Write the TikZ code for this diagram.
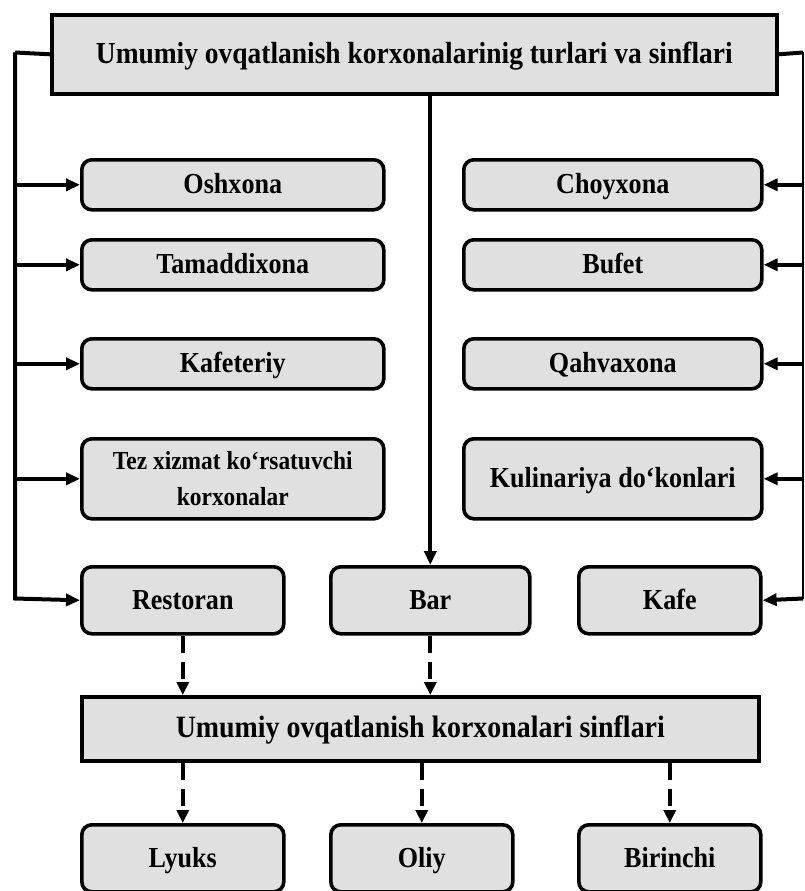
\documentclass[tikz,border=0pt]{standalone}
\usepackage{fontspec}
\setmainfont{Liberation Serif}[FakeStretch=0.9]
\usetikzlibrary{arrows.meta}
\definecolor{boxfill}{gray}{0.88}
\tikzset{
  kind/.style={draw=black, line width=3.6pt, fill=boxfill, rounded corners=10pt,
    anchor=north west, inner sep=0pt, align=center, text height=19pt, text depth=1pt,
    font=\bfseries\fontsize{29}{33}\selectfont},
  twoline/.style={text height={}, text depth={}},
  header/.style={kind, rounded corners=0pt},
  link/.style={line width=4pt, -{Triangle[length=14pt,width=12pt]}},
  plain/.style={line width=4pt},
  thinrail/.style={line width=1.8pt},
  classlink/.style={line width=4pt, dash pattern=on 17pt off 9pt, -{Triangle[length=13pt,width=12pt]}}
}
\begin{document}
\begin{tikzpicture}[x=1pt,y=-1pt]
\useasboundingbox (0,0) rectangle (805,891);

% headline
\node[header, minimum width=725pt, minimum height=79pt, font=\bfseries\fontsize{30.5}{34}\selectfont]
  (top) at (50,13) {Umumiy ovqatlanish korxonalarinig turlari va sinflari};

% left column
\node[kind, minimum width=302pt, minimum height=50pt] (osh) at (80,158) {Oshxona};
\node[kind, minimum width=302pt, minimum height=50pt] (tam) at (80,238) {Tamaddixona};
\node[kind, minimum width=302pt, minimum height=50pt] (kft) at (80,337) {Kafeteriy};
\node[kind, twoline, minimum width=302pt, minimum height=80pt, font=\bfseries\fontsize{26}{36}\selectfont]
  (tez) at (80,437) {Tez xizmat ko‘rsatuvchi\\korxonalar};

% right column
\node[kind, minimum width=298pt, minimum height=50pt] (choy) at (462,158) {Choyxona};
\node[kind, minimum width=298pt, minimum height=50pt] (buf) at (462,238) {Bufet};
\node[kind, minimum width=298pt, minimum height=50pt] (qah) at (462,337) {Qahvaxona};
\node[kind, minimum width=298pt, minimum height=80pt] (kul) at (462,437) {Kulinariya do‘konlari};

% bottom row of types
\node[kind, minimum width=202pt, minimum height=67pt] (res) at (80,565) {Restoran};
\node[kind, minimum width=199pt, minimum height=67pt] (bar) at (329,565) {Bar};
\node[kind, minimum width=182pt, minimum height=67pt] (kafe) at (577,565) {Kafe};

% classes
\node[header, minimum width=677pt, minimum height=64pt, font=\bfseries\fontsize{31}{35}\selectfont]
  (cls) at (80,695) {Umumiy ovqatlanish korxonalari sinflari};
\node[kind, minimum width=202pt, minimum height=67pt] (lyx) at (80,823) {Lyuks};
\node[kind, minimum width=182pt, minimum height=67pt] (oliy) at (329,823) {Oliy};
\node[kind, minimum width=182pt, minimum height=67pt] (bir) at (577,823) {Birinchi};

% rails
\coordinate (lt) at (15,52.5);
\coordinate (lb) at (15,598.5);
\coordinate (rt) at (803,52.5);
\coordinate (rb) at (803,598.5);

\draw[plain] (top.west) -- (lt);
\draw[link] (lt) -- (lb) -- (res.west);
\draw[link] (lt |- osh.west) -- (osh.west);
\draw[link] (lt |- tam.west) -- (tam.west);
\draw[link] (lt |- kft.west) -- (kft.west);
\draw[link] (lt |- tez.west) -- (tez.west);

\draw[plain] (top.east) -- (rt);
\draw[thinrail] (rt) -- (rb);
\draw[link] (rb) -- (kafe.east);
\draw[link] (rt |- choy.east) -- (choy.east);
\draw[link] (rt |- buf.east) -- (buf.east);
\draw[link] (rt |- qah.east) -- (qah.east);
\draw[link] (rt |- kul.east) -- (kul.east);

\draw[link] (top.south -| bar.north) -- (bar.north);

% class links
\draw[classlink] (res.south) -- (res.south |- cls.north);
\draw[classlink] (bar.south) -- (bar.south |- cls.north);
\draw[classlink] (cls.south -| lyx.north) -- (lyx.north);
\draw[classlink] (cls.south -| oliy.north) -- (oliy.north);
\draw[classlink] (cls.south -| bir.north) -- (bir.north);
\end{tikzpicture}
\end{document}
